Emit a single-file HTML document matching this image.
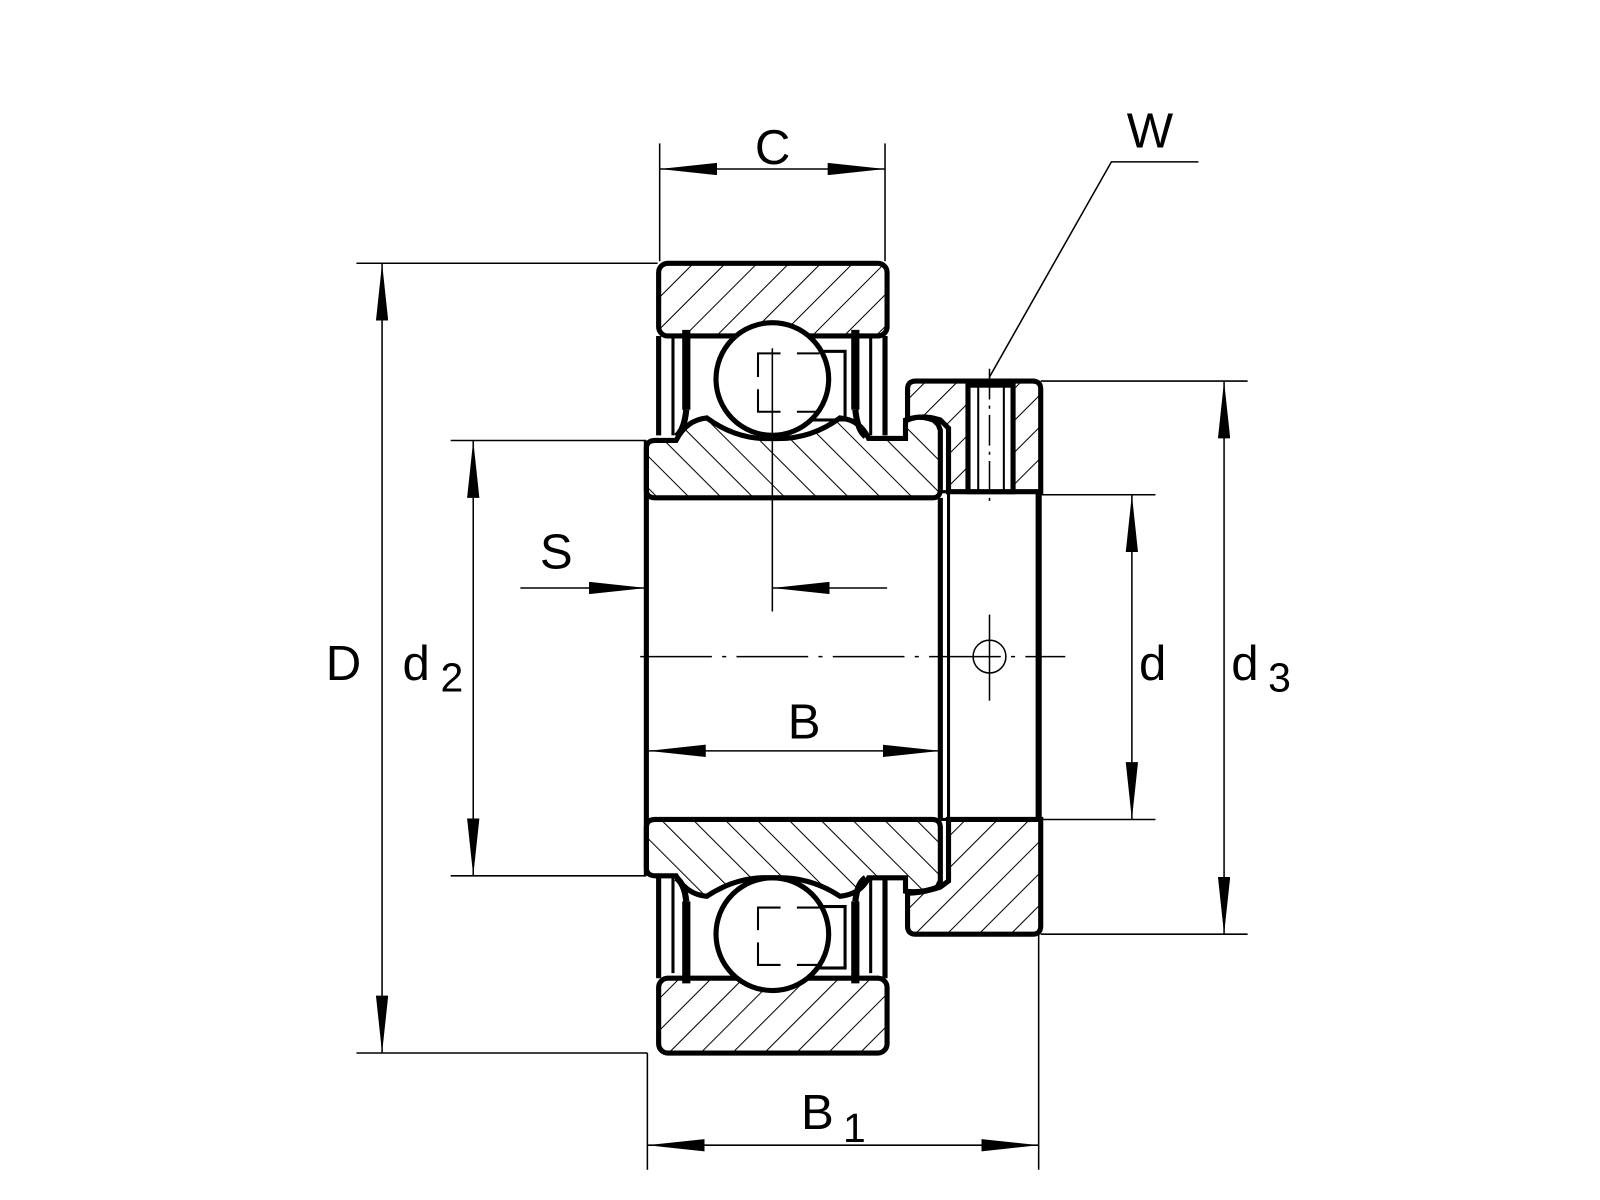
<!DOCTYPE html>
<html><head><meta charset="utf-8"><style>html,body{margin:0;padding:0;background:#fff}svg{display:block}</style></head>
<body>
<svg width="1600" height="1200" viewBox="0 0 1562 1171.5" preserveAspectRatio="xMinYMin meet" xmlns="http://www.w3.org/2000/svg">
<defs>
<pattern id="hf" patternUnits="userSpaceOnUse" width="22" height="22" patternTransform="rotate(45)">
<line x1="0" y1="0" x2="0" y2="22" stroke="#000" stroke-width="2"/></pattern>
<pattern id="hb" patternUnits="userSpaceOnUse" width="22" height="22" patternTransform="rotate(-45)">
<line x1="0" y1="0" x2="0" y2="22" stroke="#000" stroke-width="2"/></pattern>
<marker id="a" viewBox="0 0 56 12" refX="56" refY="6" markerWidth="56" markerHeight="12" markerUnits="userSpaceOnUse" orient="auto-start-reverse">
<path d="M0,0 L56,6 L0,12 Z" fill="#000"/></marker>
</defs>
<g stroke="#000" fill="none">
<rect x="643" y="257" width="223" height="71" rx="9" fill="url(#hf)" stroke-width="5"/>
<rect x="643" y="955" width="223" height="73" rx="9" fill="url(#hf)" stroke-width="5"/>
<line x1="643" y1="328" x2="643" y2="425" stroke-width="5"/>
<line x1="864" y1="328" x2="864" y2="425" stroke-width="5"/>
<line x1="643" y1="855" x2="643" y2="955" stroke-width="5"/>
<line x1="864" y1="855" x2="864" y2="955" stroke-width="5"/>
<g stroke-width="8">
<line x1="670" y1="322" x2="670" y2="400"/><line x1="835" y1="322" x2="835" y2="400"/>
<line x1="670" y1="880" x2="670" y2="960"/><line x1="835" y1="880" x2="835" y2="960"/>
</g>
<g stroke-width="3">
<line x1="657" y1="330" x2="657" y2="425"/><line x1="850" y1="330" x2="850" y2="425"/>
<line x1="657" y1="855" x2="657" y2="950"/><line x1="850" y1="855" x2="850" y2="950"/>
<path d="M670,400 Q668,420 660,426" stroke-width="6"/><path d="M835,400 Q837,420 845,426" stroke-width="6"/>
<path d="M670,880 Q668,862 660,857" stroke-width="6"/><path d="M835,880 Q837,862 845,857" stroke-width="6"/>
</g>
<rect x="740" y="343" width="85" height="67" stroke-width="3"/>
<rect x="740" y="885" width="85" height="60" stroke-width="3"/>
<circle cx="754" cy="370" r="55" fill="#fff" stroke-width="5"/>
<circle cx="754" cy="912" r="55" fill="#fff" stroke-width="5"/>
<g stroke-width="2">
<path d="M762,345 H740 V368 M740,380 V402 H762 M778,345 H800 M778,402 H800"/>
<path d="M762,886 H740 V908 M740,920 V942 H762 M778,886 H800 M778,942 H800"/>
</g>
<path d="M640,430 L660,430 Q670,410 690,408 Q720,430 754,428 Q790,430 820,408 Q840,410 848,428 L884,428 L884,410 Q900,404 915,412 L918,420 L918,478 Q918,486 910,486 L640,486 Q631,486 631,478 L631,438 Q631,430 640,430 Z" fill="url(#hb)" stroke-width="5"/>
<path d="M640,855 L660,855 Q670,873 690,875 Q720,855 754,857 Q790,855 820,875 Q840,873 848,857 L884,857 L884,870 Q900,872 915,866 L918,860 L918,808 Q918,800 910,800 L640,800 Q631,800 631,808 L631,847 Q631,855 640,855 Z" fill="url(#hb)" stroke-width="5"/>
<path d="M894,372 L1008,372 Q1016,372 1016,380 L1016,480 L926,480 L926,418 L918,410 Q900,404 886,410 L886,380 Q886,372 894,372 Z" fill="url(#hf)" stroke-width="5"/>
<rect x="945" y="376" width="44" height="104" fill="#fff" stroke-width="5"/>
<line x1="955" y1="378" x2="955" y2="478" stroke-width="2"/><line x1="980" y1="378" x2="980" y2="478" stroke-width="2"/>
<line x1="966" y1="360" x2="966" y2="492" stroke-width="1.5" stroke-dasharray="30,6,3,6"/>
<path d="M926,800 L1016,800 L1016,904 Q1016,912 1008,912 L894,912 Q886,912 886,904 L886,872 Q900,872 918,866 L926,860 Z" fill="url(#hf)" stroke-width="5"/>
<line x1="631" y1="430" x2="631" y2="855" stroke-width="5"/>
<line x1="918" y1="486" x2="918" y2="800" stroke-width="5"/>
<line x1="926" y1="480" x2="926" y2="800" stroke-width="3"/>
<line x1="1014" y1="480" x2="1014" y2="800" stroke-width="6"/>
<line x1="918" y1="480" x2="1016" y2="480" stroke-width="3"/>
<line x1="918" y1="800" x2="1016" y2="800" stroke-width="3"/>
<line x1="625" y1="641" x2="1040" y2="641" stroke-width="1.5" stroke-dasharray="70,10,4,10"/>
<line x1="754" y1="340" x2="754" y2="597" stroke-width="1.5"/>
<circle cx="966" cy="641" r="16" stroke-width="1.5"/>
<line x1="966" y1="600" x2="966" y2="684" stroke-width="1.5"/>
<g stroke-width="1.5">
<line x1="644" y1="140" x2="644" y2="255"/><line x1="864" y1="140" x2="864" y2="255"/>
<line x1="644" y1="165" x2="864" y2="165" marker-start="url(#a)" marker-end="url(#a)"/>
<line x1="348" y1="257" x2="642" y2="257"/><line x1="348" y1="1028" x2="632" y2="1028"/>
<line x1="373" y1="257" x2="373" y2="1028" marker-start="url(#a)" marker-end="url(#a)"/>
<line x1="440" y1="430" x2="631" y2="430"/><line x1="440" y1="855" x2="631" y2="855"/>
<line x1="462" y1="430" x2="462" y2="855" marker-start="url(#a)" marker-end="url(#a)"/>
<line x1="508" y1="574" x2="631" y2="574" marker-end="url(#a)"/>
<line x1="866" y1="574" x2="754" y2="574" marker-end="url(#a)"/>
<line x1="633" y1="733" x2="918" y2="733" marker-start="url(#a)" marker-end="url(#a)"/>
<line x1="1016" y1="483" x2="1128" y2="483"/><line x1="1016" y1="800" x2="1128" y2="800"/>
<line x1="1105" y1="483" x2="1105" y2="800" marker-start="url(#a)" marker-end="url(#a)"/>
<line x1="1016" y1="372" x2="1218" y2="372"/><line x1="1016" y1="912" x2="1218" y2="912"/>
<line x1="1195" y1="372" x2="1195" y2="912" marker-start="url(#a)" marker-end="url(#a)"/>
<line x1="632" y1="1028" x2="632" y2="1142"/><line x1="1014" y1="912" x2="1014" y2="1142"/>
<line x1="632" y1="1118" x2="1014" y2="1118" marker-start="url(#a)" marker-end="url(#a)"/>
<polyline points="1170,158 1085,158 966,368"/>
</g>
</g>
<g font-family="Liberation Sans, sans-serif" font-size="48" fill="#000">
<text x="737" y="160">C</text>
<text x="1100" y="144">W</text>
<text x="318" y="664">D</text>
<text x="393" y="664">d</text><text x="430" y="675" font-size="40">2</text>
<text x="527" y="555">S</text>
<text x="769" y="721">B</text>
<text x="1112" y="664">d</text>
<text x="1202" y="664">d</text><text x="1238" y="675" font-size="40">3</text>
<text x="782" y="1102">B</text><text x="823" y="1115" font-size="40">1</text>
</g>
</svg>
</body></html>
